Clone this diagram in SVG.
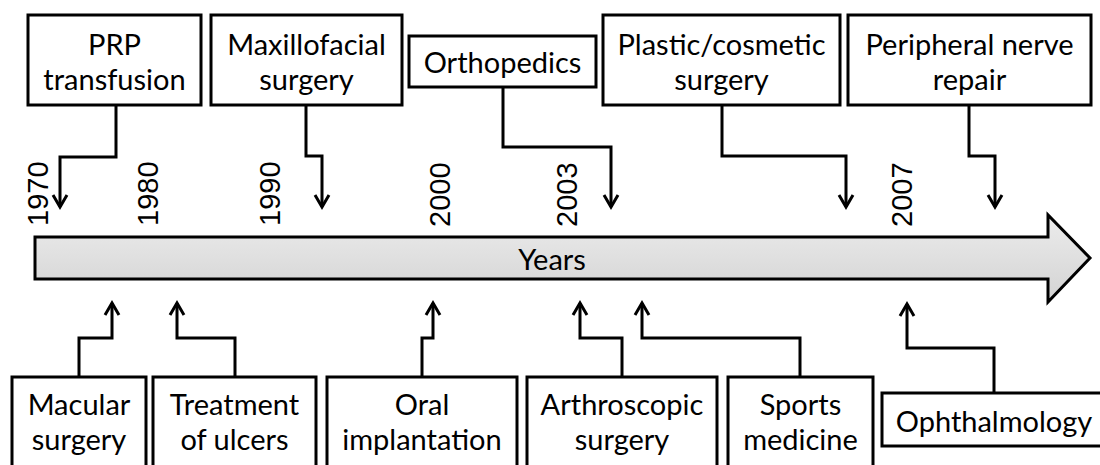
<svg xmlns="http://www.w3.org/2000/svg" width="1100" height="465" viewBox="0 0 1100 465">
<style>
.box{fill:#fff;stroke:#000;stroke-width:3}
.lbl{font-family:Lato,"Liberation Sans",sans-serif;font-size:29px;fill:#000;text-anchor:middle}
.yr{font-family:"Liberation Sans",Arial,sans-serif;font-size:29px;fill:#000}
.con{fill:none;stroke:#000;stroke-width:3;marker-end:url(#ah)}
</style>
<defs>
<linearGradient id="g" x1="0" y1="0" x2="0" y2="1">
<stop offset="0" stop-color="#ececec"/>
<stop offset="1" stop-color="#d3d3d3"/>
</linearGradient>
<marker id="ah" markerUnits="userSpaceOnUse" markerWidth="20" markerHeight="20" viewBox="-14 -10 18 20" refX="0" refY="0" orient="auto">
<path d="M-12,-7 L0,0 L-12,7" fill="none" stroke="#000" stroke-width="3"/>
</marker>
</defs>
<rect width="1100" height="465" fill="#fff"/>
<g id="timeline">
<path d="M35,237 H1048 V215 L1090,258 L1048,302 V279 H35 Z" fill="url(#g)" stroke="#000" stroke-width="3" stroke-linejoin="miter"/>
<text class="lbl" x="552" y="270">Years</text>
</g>
<g id="years">
<text class="yr" transform="translate(48,226) rotate(-90)">1970</text>
<text class="yr" transform="translate(158,226) rotate(-90)">1980</text>
<text class="yr" transform="translate(280,226) rotate(-90)">1990</text>
<text class="yr" transform="translate(450,227) rotate(-90)">2000</text>
<text class="yr" transform="translate(577,227) rotate(-90)">2003</text>
<text class="yr" transform="translate(912,227) rotate(-90)">2007</text>
</g>
<g id="connectors">
<path class="con" d="M116,105 V157 H60 V207"/>
<path class="con" d="M306,105 V156 H322 V207"/>
<path class="con" d="M503,87 V147 H611 V207"/>
<path class="con" d="M722,105 V156 H846 V207"/>
<path class="con" d="M969,105 V156 H995 V207"/>
<path class="con" d="M79,377 V338 H112 V303"/>
<path class="con" d="M235,377 V338 H177 V303"/>
<path class="con" d="M422,377 V338 H433 V303"/>
<path class="con" d="M622,377 V338 H580 V303"/>
<path class="con" d="M800,377 V338 H642 V303"/>
<path class="con" d="M994,393 V348 H907 V304"/>
</g>
<g id="prp"><rect class="box" x="28" y="15" width="173" height="90"/><text class="lbl" x="114.5" y="55">PRP</text><text class="lbl" x="114.5" y="90">transfusion</text></g>
<g id="maxillofacial"><rect class="box" x="211" y="15" width="191" height="90"/><text class="lbl" x="306.5" y="55">Maxillofacial</text><text class="lbl" x="306.5" y="90">surgery</text></g>
<g id="orthopedics"><rect class="box" x="409" y="36" width="187" height="51"/><text class="lbl" x="502.5" y="73">Orthopedics</text></g>
<g id="plastic"><rect class="box" x="603" y="15" width="237" height="90"/><text class="lbl" x="721.5" y="55">Plastic/cosmetic</text><text class="lbl" x="721.5" y="90">surgery</text></g>
<g id="peripheral"><rect class="box" x="848" y="15" width="243" height="90"/><text class="lbl" x="969.5" y="55">Peripheral nerve</text><text class="lbl" x="969.5" y="90">repair</text></g>
<g id="macular"><rect class="box" x="12" y="377" width="134" height="100"/><text class="lbl" x="79" y="415">Macular</text><text class="lbl" x="79" y="450">surgery</text></g>
<g id="ulcers"><rect class="box" x="153" y="377" width="163" height="100"/><text class="lbl" x="234.5" y="415">Treatment</text><text class="lbl" x="234.5" y="450">of ulcers</text></g>
<g id="oral"><rect class="box" x="327" y="377" width="190" height="100"/><text class="lbl" x="422" y="415">Oral</text><text class="lbl" x="422" y="450">implantation</text></g>
<g id="arthroscopic"><rect class="box" x="527" y="377" width="190" height="100"/><text class="lbl" x="622" y="415">Arthroscopic</text><text class="lbl" x="622" y="450">surgery</text></g>
<g id="sports"><rect class="box" x="728" y="377" width="145" height="100"/><text class="lbl" x="800.5" y="415">Sports</text><text class="lbl" x="800.5" y="450">medicine</text></g>
<g id="ophthalmology"><rect class="box" x="882" y="393" width="224" height="53"/><text class="lbl" x="994" y="432">Ophthalmology</text></g>
</svg>
